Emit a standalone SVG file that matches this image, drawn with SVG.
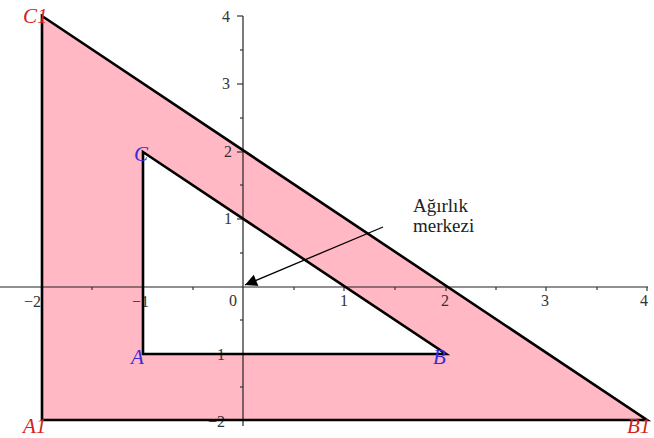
<svg xmlns="http://www.w3.org/2000/svg" width="654" height="438" viewBox="0 0 654 438">
<defs>
<style>
.ax{stroke:#222;stroke-width:1.2;fill:none}
.tk{stroke:#333;stroke-width:1.2}
.num{font-family:"Liberation Serif",serif;font-size:16px;fill:#333}
.vr{font-family:"Liberation Serif",serif;font-style:italic;font-size:21px;fill:#d42020}
.vb{font-family:"Liberation Serif",serif;font-style:italic;font-size:21px;fill:#3a2bd8}
.edge{stroke:#000;stroke-width:2.6;fill:none;stroke-linejoin:miter}
.lbl{font-family:"Liberation Serif",serif;font-size:19px;fill:#222}
</style>
<marker id="ah" viewBox="0 0 10 10" refX="10" refY="5" markerWidth="16" markerHeight="12" orient="auto" markerUnits="userSpaceOnUse">
<path d="M0,0 L10,5 L0,10 z" fill="#000"/>
</marker>
</defs>
<rect width="654" height="438" fill="#fff"/>
<g id="region">
<path d="M42,16 L647,420 L42,420 Z M143,152 L143,354 L446,354 Z" fill="#ffb8c4" fill-rule="evenodd"/>
</g>
<g id="axes">
<line class="ax" x1="0" y1="287" x2="648" y2="287"/>
<line class="ax" x1="243" y1="16" x2="243" y2="426"/>
<g class="tk">
<line x1="92" y1="287" x2="92" y2="290"/><line x1="193" y1="287" x2="193" y2="290"/><line x1="294" y1="287" x2="294" y2="290"/><line x1="395" y1="287" x2="395" y2="290"/><line x1="496" y1="287" x2="496" y2="290"/><line x1="597" y1="287" x2="597" y2="290"/>
<line x1="344" y1="287" x2="344" y2="291"/><line x1="446" y1="287" x2="446" y2="291"/><line x1="546" y1="287" x2="546" y2="291"/><line x1="647" y1="287" x2="647" y2="291"/>
<line x1="237" y1="16" x2="243" y2="16"/><line x1="237" y1="84" x2="243" y2="84"/><line x1="237" y1="152" x2="243" y2="152"/><line x1="237" y1="219" x2="243" y2="219"/><line x1="237" y1="354" x2="243" y2="354"/><line x1="237" y1="420" x2="243" y2="420"/>
<line x1="240" y1="50" x2="243" y2="50"/><line x1="240" y1="118" x2="243" y2="118"/><line x1="240" y1="185" x2="243" y2="185"/><line x1="240" y1="253" x2="243" y2="253"/><line x1="240" y1="320" x2="243" y2="320"/><line x1="240" y1="387" x2="243" y2="387"/>
</g>
<text class="num" x="24" y="307">−2</text>
<text class="num" x="132" y="307">−1</text>
<text class="num" x="229" y="306">0</text>
<text class="num" x="340" y="306">1</text>
<text class="num" x="441" y="306">2</text>
<text class="num" x="541" y="306">3</text>
<text class="num" x="640" y="306">4</text>
<text class="num" x="222" y="22">4</text>
<text class="num" x="222" y="89">3</text>
<text class="num" x="224" y="157">2</text>
<text class="num" x="224" y="224">1</text>
<text class="num" x="208" y="360">−1</text>
<text class="num" x="208" y="427">−2</text>
</g>
<g id="big-triangle">
<path class="edge" d="M42,16 L647,420 L42,420 Z"/>
<text class="vr" x="23" y="23">C1</text>
<text class="vr" x="23" y="433">A1</text>
<text class="vr" x="627" y="433">B1</text>
</g>
<g id="small-triangle">
<path class="edge" d="M143,152 L446,354 L143,354 Z"/>
<text class="vb" x="134" y="161">C</text>
<text class="vb" x="131" y="364">A</text>
<text class="vb" x="433" y="364">B</text>
</g>
<g id="connectors">
<line x1="383" y1="227" x2="245" y2="285" stroke="#000" stroke-width="1.3" marker-end="url(#ah)"/>
</g>
<g id="label">
<text class="lbl" x="413" y="212">Ağırlık</text>
<text class="lbl" x="413" y="232">merkezi</text>
</g>
</svg>
